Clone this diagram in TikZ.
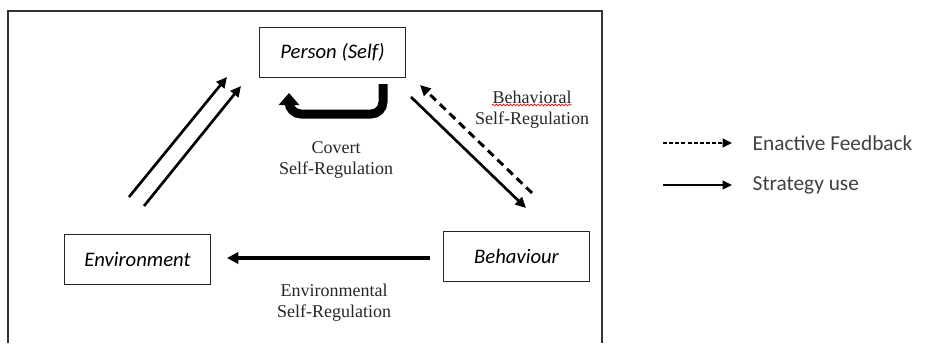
\documentclass[tikz,border=0pt]{standalone}
\usepackage{fontspec}
\setmainfont{Liberation Serif}
\newfontfamily\calibri{Carlito}
\usetikzlibrary{arrows.meta, positioning, decorations.pathmorphing}

\begin{document}
\begin{tikzpicture}[x=0.75pt, y=-0.75pt,
  factor/.style={rectangle, draw=black!85, line width=0.8pt, minimum width=110pt, minimum height=38pt, font=\calibri\itshape\fontsize{15.5}{18}\selectfont},
  lbl/.style={align=center, text=black!85, font=\fontsize{13.5}{16}\selectfont},
  legend/.style={text=black!75, font=\calibri\fontsize{16}{19}\selectfont},
  arrow/.style={-{Triangle[length=8pt, width=7.5pt]}, line width=2pt},
  feedback/.style={arrow, line width=2.2pt, dash pattern=on 6pt off 4pt},
  covert/.style={-{Triangle[length=9pt, width=15pt]}, line width=6.75pt, rounded corners=9pt},
  keyline/.style={-{Triangle[length=7pt, width=6.5pt]}, line width=1.1pt}
]
  \useasboundingbox (0,0) rectangle (928,343);
  % outer frame, open at the bottom
  \draw[black!80, line width=0.8pt] (8,343) -- (8,11) -- (602,11) -- (602,343);

  \node[factor] (person) at (332.5,52.5) {Person (Self)};
  \node[factor] (environment) at (137.5,259.5) {Environment};
  \node[factor] (behaviour) at (516.5,256.5) {Behaviour};

  % free ends of the arrows
  \coordinate (envUpA) at (129,197);  \coordinate (envTopA) at (227,77);
  \coordinate (envUpB) at (144,206);  \coordinate (envTopB) at (241,86);
  \coordinate (covStart) at (383,84); \coordinate (covEnd) at (289,93);
  \coordinate (behStrat) at (411,97); \coordinate (behEnd) at (526,208);
  \coordinate (behFb) at (532,193);   \coordinate (personFb) at (420,85);
  \coordinate (envStart) at (430,258); \coordinate (envEnd) at (227,258);

  \draw[arrow] (envUpA) -- (envTopA);
  \draw[arrow] (envUpB) -- (envTopB);
  \draw[covert] (covStart) -- (383,114) -- (289,114) -- (covEnd);
  \draw[arrow] (behStrat) -- (behEnd);
  \draw[feedback] (behFb) -- (personFb);
  \draw[-{Triangle[length=8.5pt, width=8.5pt]}, line width=3.2pt] (envStart) -- (envEnd);

  \node[lbl] (covertLbl) at (336,160) {Covert\\Self-Regulation};
  \node[lbl] (behLbl) at (532,110) {Behavioral\\Self-Regulation};
  \node[lbl] (envLbl) at (334,303) {Environmental\\Self-Regulation};
  \draw[red, line width=0.5pt, decorate, decoration={snake, amplitude=0.7pt, segment length=2.6pt}] (492,105) -- (572,105);

  % legend
  \coordinate (fbKeyA) at (663,143); \coordinate (fbKeyB) at (732,143);
  \coordinate (stKeyA) at (663,185); \coordinate (stKeyB) at (732,185);
  \draw[keyline, dash pattern=on 3pt off 1.6pt] (fbKeyA) -- (fbKeyB);
  \draw[keyline] (stKeyA) -- (stKeyB);
  \node[legend, right=12pt of fbKeyB] (fbText) {Enactive Feedback};
  \node[legend, right=12pt of stKeyB] (stText) {Strategy use};
\end{tikzpicture}
\end{document}
